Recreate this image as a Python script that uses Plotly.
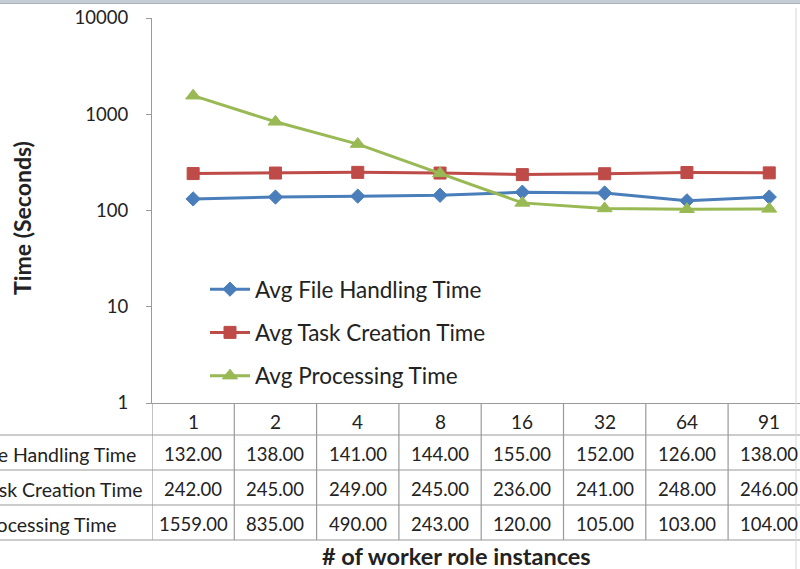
import plotly.graph_objects as go

# Worker role scaling results (times in seconds)
categories = ["1", "2", "4", "8", "16", "32", "64", "91"]
series_names = ["Avg File Handling Time", "Avg Task Creation Time", "Avg Processing Time"]
file_handling = [132, 138, 141, 144, 155, 152, 126, 138]
task_creation = [242, 245, 249, 245, 236, 241, 248, 246]
processing = [1559, 835, 490, 243, 120, 105, 103, 104]
y_ticks = [1, 10, 100, 1000, 10000]

series_values = [file_handling, task_creation, processing]
colors = ["#4a7ebb", "#be4b48", "#98b954"]
symbols = ["diamond", "square", "triangle-up"]
marker_sizes = [11, 12, 13]

W, H = 800, 569
L, T, B = 152, 18, 403          # plot area left / top / bottom in px
PW, PH = W - L, B - T
COL = 82.3                      # px per category column
FONT = "Lato, 'Open Sans', sans-serif"
TXT = "#222222"
GRID = "#9a9a9a"


def py(px):
    """pixel row -> paper y"""
    return (B - px) / PH


def pxx(px):
    """pixel column -> paper x"""
    return (px - L) / PW


x_idx = list(range(len(categories)))

fig = go.Figure()
for name, vals, c, s, ms in zip(series_names, series_values, colors, symbols, marker_sizes):
    fig.add_trace(go.Scatter(
        x=x_idx, y=vals, name=name, mode="lines+markers",
        line=dict(color=c, width=3),
        marker=dict(symbol=s, size=ms, color=c, line=dict(color=c, width=1)),
        legendgroup=name, cliponaxis=False,
    ))

shapes = []
annotations = []


def label(x, y, text, size, xref="paper", xanchor="center", **kw):
    annotations.append(dict(x=x, y=y, xref=xref, yref="paper", text=text, showarrow=False,
                            xanchor=xanchor, yanchor="middle",
                            font=dict(size=size, color=TXT, family=FONT), **kw))


# data table: horizontal rules
row_lines = [435, 470, 505, 540]
for yl in row_lines:
    shapes.append(dict(type="line", xref="paper", yref="paper",
                       x0=pxx(0), x1=1.0, y0=py(yl), y1=py(yl),
                       line=dict(color=GRID, width=1.2)))
# vertical rules between columns
for k in range(len(categories) + 1):
    shapes.append(dict(type="line", xref="x", yref="paper",
                       x0=k - 0.5, x1=k - 0.5, y0=py(B), y1=py(540),
                       line=dict(color=GRID, width=1.2)))

# header row with category labels
for i, cat in enumerate(categories):
    label(i, py(421), cat, 19, xref="x")

# value rows
row_centers = [454, 489, 524]
label_ends = [138, 144, 119]
for r, (name, vals) in enumerate(zip(series_names, series_values)):
    label(pxx(label_ends[r]), py(row_centers[r]), name, 19.5, xanchor="right")
    for i, v in enumerate(vals):
        label(i, py(row_centers[r]), f"{v:.2f}", 18.5, xref="x")

# axis titles
label(pxx(456), py(556), "<b># of worker role instances</b>", 23.5)
label(pxx(22), py(218), "<b>Time (Seconds)</b>", 23, textangle=-90)

# window frame strip along the top edge and right frame edge
shapes.append(dict(type="rect", xref="paper", yref="paper", x0=pxx(0), x1=1.0,
                   y0=py(0), y1=py(3), fillcolor="#c4cdd5", line=dict(width=0), layer="above"))
shapes.append(dict(type="line", xref="paper", yref="paper", x0=pxx(0), x1=1.0,
                   y0=py(3.5), y1=py(3.5), line=dict(color="#a9b1b8", width=1)))
shapes.append(dict(type="line", xref="paper", yref="paper", x0=pxx(796), x1=pxx(796),
                   y0=py(8), y1=py(569), line=dict(color="#d6d6d6", width=1)))

fig.update_layout(
    width=W, height=H,
    margin=dict(l=L, r=0, t=T, b=H - B, pad=0),
    paper_bgcolor="white", plot_bgcolor="white",
    font=dict(family=FONT, color=TXT),
    showlegend=True,
    legend=dict(x=pxx(205), y=py(268), xanchor="left", yanchor="top",
                bgcolor="rgba(0,0,0,0)", tracegroupgap=11, itemwidth=40,
                font=dict(size=22.5, color=TXT, family=FONT)),
    xaxis=dict(range=[-0.5, -0.5 + PW / COL], showticklabels=False, showgrid=False,
               zeroline=False, showline=True, linecolor=GRID, linewidth=1.2, ticks=""),
    yaxis=dict(type="log", range=[0, 4], tickvals=y_ticks, ticktext=[str(v) for v in y_ticks],
               showgrid=False, zeroline=False, showline=True, linecolor=GRID, linewidth=1.2,
               ticks="outside", ticklen=5, tickcolor=GRID, ticklabelstandoff=14,
               tickfont=dict(size=18.5, color=TXT, family=FONT)),
    shapes=shapes, annotations=annotations,
)

fig.write_html("out.html")
